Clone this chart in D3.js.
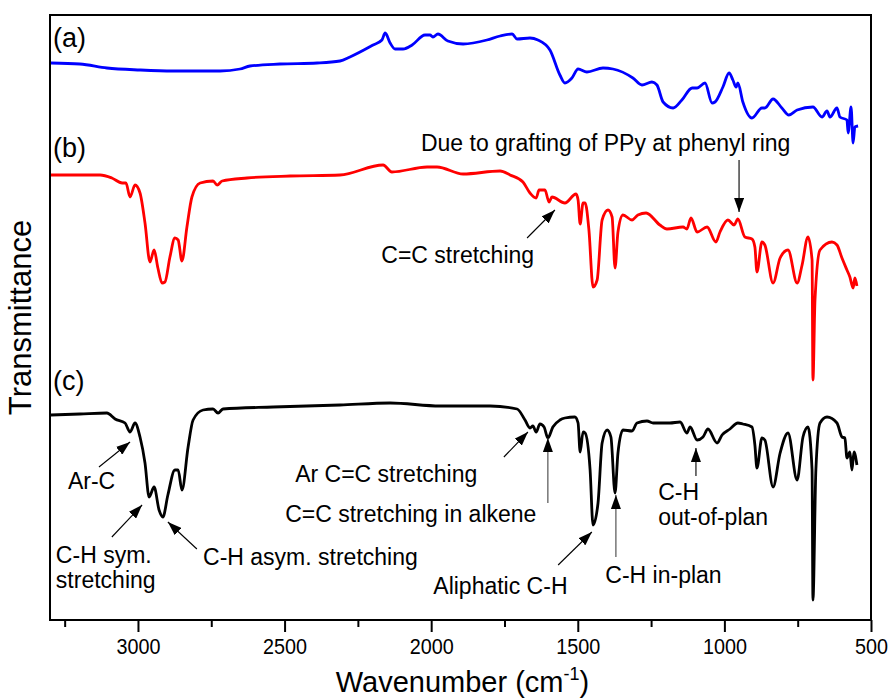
<!DOCTYPE html>
<html>
<head>
<meta charset="utf-8">
<script src="https://cdn.jsdelivr.net/npm/d3@7"></script>
<style>
  body { margin: 0; background: #fff; }
  svg { display: block; }
  text { font-family: "Liberation Sans", Arial, Helvetica, sans-serif; fill: #000; }
</style>
</head>
<body>
<svg id="chart" width="892" height="698"></svg>
<script>
// FTIR spectra, offset vertically (transmittance in arbitrary units)
// (a) blue
const wavenumberA = [3297,3198,3106,2993,2881,2720,2652,2618,2516,2389,2311,2277,2198,2168,2157,2140,2123,2096,2065,2021,2004,1994,1977,1943,1891,1810,1765,1724,1707,1663,1636,1595,1561,1544,1520,1499,1469,1414,1380,1312,1281,1247,1230,1209,1175,1145,1110,1093,1066,1042,1032,1005,984,971,960,954,937,906,872,862,834,804,780,752,698,667,650,640,616,606,582,578,568,561,555,544];
const transA      = [557,556,552,550,549,549,551,554,556,557,559,563,575,580,587,577,571,571,575,585,585,583,586,579,576,580,584,586,581,582,580,570,545,537,542,551,548,552,551,542,535,538,535,518,512,520,532,532,537,517,518,533,547,540,533,537,518,502,512,512,521,512,505,510,513,503,509,503,512,503,500,487,513,477,493,494];

// (b) red
const wavenumberB = [3297,3129,3089,3054,3041,3027,3010,2993,2976,2959,2945,2932,2918,2908,2891,2874,2863,2850,2833,2816,2788,2744,2730,2713,2628,2481,2311,2164,2134,2014,1980,1891,1765,1731,1687,1663,1642,1632,1612,1598,1588,1544,1506,1499,1492,1482,1475,1462,1448,1434,1417,1397,1383,1373,1363,1346,1315,1295,1267,1220,1196,1141,1128,1114,1093,1059,1029,1015,988,967,954,930,906,896,889,872,862,834,810,783,752,735,715,701,698,691,674,633,616,599,582,572,561,555,548];
const transB      = [445,445,442,437,437,423,435,427,397,358,370,352,337,338,363,382,380,359,393,423,437,439,435,439,442,444,445,455,448,453,453,446,449,445,438,427,422,430,430,418,423,417,426,420,396,417,417,390,333,340,400,410,403,352,388,405,400,405,407,395,391,393,391,402,388,393,378,388,400,395,401,383,381,373,348,378,375,337,362,370,337,355,383,360,240,320,370,378,375,362,350,343,332,342,334];

// (c) black
const wavenumberC = [3297,3198,3106,3078,3044,3027,3010,2993,2976,2962,2945,2928,2915,2898,2874,2863,2850,2829,2812,2778,2744,2727,2710,2539,2311,2140,1970,1799,1707,1680,1663,1653,1642,1629,1615,1602,1585,1561,1544,1510,1499,1492,1482,1475,1458,1448,1431,1417,1400,1387,1373,1363,1346,1315,1298,1264,1243,1186,1151,1128,1117,1093,1073,1056,1025,1008,981,954,937,906,896,889,872,862,834,810,783,752,732,715,701,698,688,674,650,616,599,589,582,572,565,558,548];
const transC      = [205,206,207,201,197,188,197,183,157,123,133,110,103,125,150,150,130,173,200,210,211,207,211,213,215,217,214,214,211,200,192,194,188,196,193,182,193,200,202,203,197,168,188,187,150,95,117,177,190,183,127,167,190,189,197,199,197,197,198,187,193,180,183,191,177,185,191,197,196,193,175,152,182,180,133,167,187,140,183,193,150,20,150,197,203,197,183,182,162,168,150,168,155];

// Axis ticks
const majorTicks = [3000, 2500, 2000, 1500, 1000, 500];
const minorTicks = [3250, 2750, 2250, 1750, 1250, 750];

const series = [
  { wn: wavenumberA, t: transA, color: "#0000ff" },
  { wn: wavenumberB, t: transB, color: "#ff0000" },
  { wn: wavenumberC, t: transC, color: "#000000" }
];

const margin = { left: 50, right: 871, top: 15, bottom: 620 };
const svg = d3.select("#chart");

const x = d3.scaleLinear().domain([3300, 500]).range([margin.left, margin.right]);
const y = d3.scaleLinear().domain([0, 605]).range([margin.bottom, margin.top]);

// spectra
const line = d3.line().x(d => x(d[0])).y(d => y(d[1])).curve(d3.curveMonotoneX);
series.forEach(s => {
  svg.append("path")
    .datum(d3.zip(s.wn, s.t))
    .attr("d", line)
    .attr("fill", "none")
    .attr("stroke", s.color)
    .attr("stroke-width", 2.8)
    .attr("stroke-linejoin", "round");
});

// bottom axis: major ticks with labels, minor ticks without
const axisMajor = d3.axisBottom(x).tickValues(majorTicks).tickFormat(d3.format("d"))
  .tickSize(12).tickSizeOuter(0).tickPadding(6);
const gx = svg.append("g").attr("transform", `translate(0,${margin.bottom})`).call(axisMajor);
gx.select(".domain").remove();
gx.selectAll(".tick line").attr("stroke", "#000").attr("stroke-width", 2);
gx.selectAll(".tick text")
  .attr("font-size", 22.5)
  .attr("font-family", "'Liberation Sans', Arial, sans-serif")
  .attr("textLength", d => String(d).length * 11)
  .attr("lengthAdjust", "spacingAndGlyphs");

const axisMinor = d3.axisBottom(x).tickValues(minorTicks).tickSize(7).tickFormat("");
const gm = svg.append("g").attr("transform", `translate(0,${margin.bottom})`).call(axisMinor);
gm.select(".domain").remove();
gm.selectAll(".tick line").attr("stroke", "#000").attr("stroke-width", 2);

// frame
svg.append("rect")
  .attr("x", margin.left).attr("y", margin.top)
  .attr("width", margin.right - margin.left).attr("height", margin.bottom - margin.top)
  .attr("fill", "none").attr("stroke", "#000").attr("stroke-width", 2);

// axis titles
const xt = svg.append("text")
  .attr("x", (margin.left + margin.right) / 2 + 2).attr("y", 692)
  .attr("text-anchor", "middle").attr("font-size", 29);
xt.append("tspan").text("Wavenumber (cm");
xt.append("tspan").attr("font-size", 18).attr("dy", -12).text("-1");
xt.append("tspan").attr("dy", 12).text(")");

svg.append("text")
  .attr("transform", `translate(31,${(margin.top + margin.bottom) / 2}) rotate(-90)`)
  .attr("text-anchor", "middle").attr("font-size", 31)
  .text("Transmittance");

// arrowhead
svg.append("defs").append("marker")
  .attr("id", "head").attr("viewBox", "0 0 14 10")
  .attr("refX", 14).attr("refY", 5)
  .attr("markerWidth", 14).attr("markerHeight", 10)
  .attr("markerUnits", "userSpaceOnUse")
  .attr("orient", "auto")
  .append("path").attr("d", "M0,0 L14,5 L0,10 Z").attr("fill", "#000");

// curve labels
const curveLabels = [
  { text: "(a)", wn: 3290, t: 573 },
  { text: "(b)", wn: 3290, t: 463 },
  { text: "(c)", wn: 3290, t: 230 }
];
svg.selectAll("text.curve").data(curveLabels).join("text")
  .attr("class", "curve")
  .attr("x", d => x(d.wn)).attr("y", d => y(d.t))
  .attr("font-size", 27)
  .text(d => d.text);

// band assignments: text lines and arrows placed in wavenumber / transmittance space
const notes = [
  { lines: ["Due to grafting of PPy at phenyl ring"], wn: 2035, t: 469, anchor: "start" },
  { lines: ["C=C stretching"], wn: 1649, t: 357, anchor: "end" },
  { lines: ["Ar-C"], wn: 3239, t: 131, anchor: "start" },
  { lines: ["C-H sym.", "stretching"], wn: 3280, t: 57, anchor: "start" },
  { lines: ["C-H asym. stretching"], wn: 2778, t: 55, anchor: "start" },
  { lines: ["Ar C=C stretching"], wn: 2464, t: 138, anchor: "start" },
  { lines: ["C=C stretching in alkene"], wn: 2498, t: 98, anchor: "start" },
  { lines: ["Aliphatic C-H"], wn: 1535, t: 26, anchor: "end" },
  { lines: ["C-H in-plan"], wn: 1406, t: 37, anchor: "start" },
  { lines: ["C-H", "out-of-plan"], wn: 1226, t: 120, anchor: "start" }
];
const noteG = svg.selectAll("text.note").data(notes).join("text")
  .attr("class", "note")
  .attr("x", d => x(d.wn)).attr("y", d => y(d.t))
  .attr("text-anchor", d => d.anchor)
  .attr("font-size", 23);
noteG.selectAll("tspan").data(d => d.lines.map(l => ({ l, d }))).join("tspan")
  .attr("x", o => x(o.d.wn))
  .attr("dy", (o, i) => i === 0 ? 0 : 25)
  .text(o => o.l);

const arrows = [
  { from: [950, 460], to: [950, 408], color: "#000" },   // grafting
  { from: [1673, 382], to: [1578, 410], color: "#000" }, // C=C stretching
  { from: [3133, 153], to: [3027, 178], color: "#000" }, // Ar-C
  { from: [3089, 83], to: [2986, 115], color: "#000" },  // C-H sym
  { from: [2799, 71], to: [2898, 98], color: "#000" },   // C-H asym
  { from: [1752, 163], to: [1670, 188], color: "#000" }, // Ar C=C
  { from: [1602, 117], to: [1602, 182], color: "#444" }, // C=C alkene
  { from: [1567, 55], to: [1452, 88], color: "#000" },   // aliphatic
  { from: [1370, 63], to: [1370, 125], color: "#444" },  // in-plan
  { from: [1097, 144], to: [1097, 172], color: "#000" }  // out-of-plan
];
svg.selectAll("line.arrow").data(arrows).join("line")
  .attr("class", "arrow")
  .attr("x1", d => x(d.from[0])).attr("y1", d => y(d.from[1]))
  .attr("x2", d => x(d.to[0])).attr("y2", d => y(d.to[1]))
  .attr("stroke", d => d.color).attr("stroke-width", 1.1)
  .attr("marker-end", "url(#head)");
</script>
</body>
</html>
